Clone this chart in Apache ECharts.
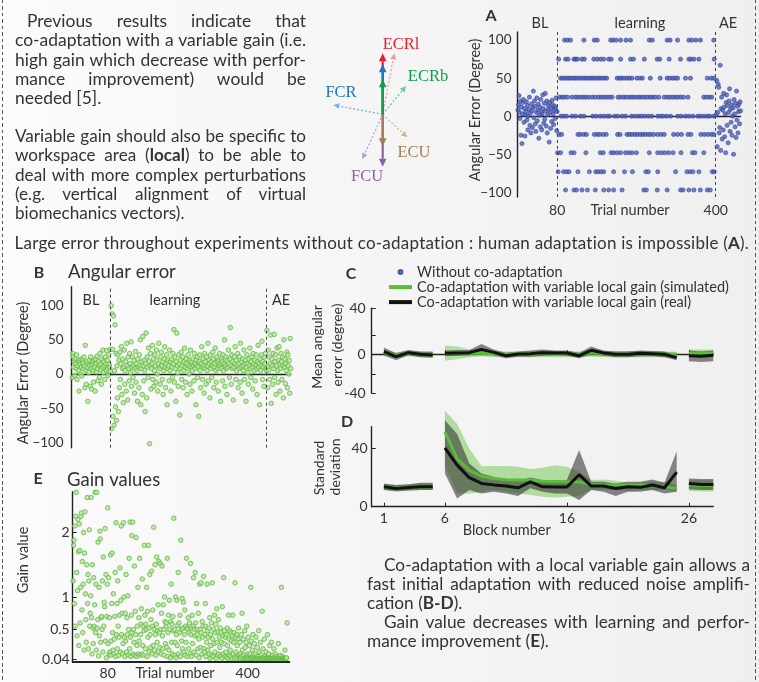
<!DOCTYPE html>
<html><head><meta charset="utf-8">
<script src="https://cdn.jsdelivr.net/npm/echarts@6.0.0/dist/echarts.min.js"></script>
<style>
html,body{margin:0;padding:0;}
body{width:759px;height:682px;position:relative;overflow:hidden;background:linear-gradient(90deg,#fbfbfb,#efefef);font-family:Lato,'Open Sans',sans-serif;color:#333;}
#chart{position:absolute;left:0;top:0;width:759px;height:682px;}
.ln{position:absolute;white-space:nowrap;line-height:20px;height:20px;}
.j{text-align:justify;text-align-last:justify;white-space:normal;}
.dash{position:absolute;top:0;width:1.6px;height:682px;background:repeating-linear-gradient(to bottom,#555 0 3.5px,transparent 3.5px 6.5px);}
b{font-weight:700;}
</style></head>
<body>
<div class="dash" style="left:1.5px"></div>
<div class="dash" style="left:754.5px"></div>
<div id="chart"></div>
<script>
// ---------------- DATA ----------------
// Panel A (without co-adaptation): baseline, learning levels, after-effect
const aBL = [8,15,27,5,-3,20,-25,12,-36,3, 18,22,-8,10,-26,2,6,19,-5,14, -18,0,9,25,-12,4,-22,16,7,-15,
  11,33,-2,20,13,-10,-20,5,24,-6, 8,16,-29,1,12,-14,22,6,-18,3, 28,10,-9,17,-4,30,7,-13,20,-22,
  2,14,9,-34,18,5,-16,11,-7,21, 15,3,-11,8,13,-3,10,24,-19,6];
const aLevelValues = [100,75,50,25,0,-24,-48,-73,-97];
const aL100 = [95,101,107,134,155,161,188,193,199,208,219,228,266,272,302,308,323,346,352,360,369,396];
const aL75 = [83,97,102,114,117,121,130,135,154,161,168,174,184,189,208,228,234,256,282,287,306,329,346,350,356,366,397];
const aL50 = [87,91,96,101,105,110,115,119,124,129,134,138,143,148,152,157,162,166,171,176,180,201,206,210,215,221,226,231,241,247,252,268,288,302,307,313,318,323,339,349,383,391,396];
const aL25 = [85,90,95,101,110,117,122,128,133,138,144,151,157,164,169,175,180,186,191,203,208,214,219,225,230,235,241,246,251,257,262,268,273,278,285,296,302,307,313,318,323,329,335,344,376,381,387,392];
const aL0 = [88,93,99,110,117,127,134,152,159,167,174,181,186,196,202,211,218,230,237,244,250,257,264,271,283,289,294,301,309,323,330,339,346,354,364,369,376,383,388,396];
const aLm24 = [84,89,122,127,134,139,155,161,166,173,179,202,207,221,226,231,237,242,248,253,258,264,269,275,283,290,296,315,323,331,344,350,370,377,384,391,396];
const aLm48 = [81,87,108,114,138,167,173,189,194,201,208,218,225,231,240,266,283,290,297,305,314,330,353,358,376];
const aLm73 = [82,93,99,104,122,145,158,163,169,174,194,216,232,259,264,283,319,342,348,354,366,393,397];
const aLm97 = [97,114,119,130,141,157,174,184,194,211,255,260,282,302,329,334,346,356,369,383,389];
const aAE = [2,47,-40,5,42,38,-22,-15,67,-45, 10,25,-30,8,-18,30,12,-27,3,-48, 18,28,-12,14,-35,5,20,36,-20,9,
  -8,15,-25,0,11,-50,22,3,-14,17, -28,33,-5,13,-22,6,16,-10,19,7];

// Panel B (co-adaptation angular error)
const bBL = [-5,30,25,10,18,-2,22,15,8,28, -8,12,20,5,-25,18,14,0,22,10, -3,20,16,8,25,12,-20,42,5,-15,
  18,10,-40,15,2,20,12,-18,25,8, -22,14,18,5,-12,20,10,-25,22,15, 3,26,8,-10,18,12,-5,30,14,6,
  -15,22,10,35,2,18,12,-8,25,15, 5,34,20,8,-2,28,14,10,36,4];
const bLearn = [100,-80,88,36,-62,85,-75,5,72,-48,30,-68,12,-35,28,-55,20,-20,32,-8,
  15,40,-30,8,22,-42,10,35,-15,5,18,-25,45,12,-38,25,8,-10,30,15,2,47,-18,10,25,-5,12,20,-28,8,33,-12,15,5,-40,22,10,-20,28,12,
  50,-45,8,18,-30,55,12,-10,20,5,-55,15,60,-35,25,10,-5,38,18,-102,12,30,-22,8,15,42,-8,22,-18,5,28,12,-12,35,20,0,-25,15,45,10,
  8,-15,25,32,12,-8,18,-30,5,22,40,10,-20,15,28,-45,8,20,12,-10,35,5,18,-25,22,10,-5,30,15,65,-12,25,8,-40,18,60,12,2,-18,28,
  15,-60,20,8,32,-8,12,25,-20,5,18,38,10,-12,22,15,-30,8,28,12,0,20,-15,35,10,18,-25,5,22,12,-10,30,15,8,-45,20,12,25,-5,10,
  -62,18,28,5,-20,15,40,10,-8,22,12,-28,30,8,18,-15,25,5,12,45,-10,20,15,-35,28,8,18,-5,12,32,22,-20,10,15,38,5,-12,25,18,8,
  -25,20,12,30,15,-40,8,22,18,-10,28,5,15,50,-18,12,25,8,-30,20,10,35,15,-5,22,68,12,-15,28,8,18,-38,10,25,15,40,-8,20,5,12,
  30,-20,15,8,25,-12,45,10,18,-28,22,12,5,35,-8,15,20,-40,10,28,15,2,-15,22,12,38,8,-5,18,25,10,-22,30,15,5,20,-10,12,28,8,
  -30,18,42,10,15,-45,22,5,12,28,48,-8,18,10,-18,25,15,30,8,5];
const bAE = [64,10,-20,35,5,25,-8,15,57,-43, 22,12,-15,30,8,58,-5,18,28,-30, 12,38,5,-12,20,40,15,-25,8,30,
  18,-8,25,12,-35,50,10,22,-14,15, 5,32,-20,28,12,0,20,-28,52,8];

// Panels C/D: blocks and phase segments
const blocks = [1,2,3,4,5,6,7,8,9,10,11,12,13,14,15,16,17,18,19,20,21,22,23,24,25,26,27,28];
const segStart = [1,6,26];
const segEnd = [5,25,28];
const cRealMean = [2.7,-2.4,1.7,0,-0.7,1,1.4,1.7,5.1,2,-1.4,0.3,0.7,1.7,1.4,1.4,-1.4,4.1,1.4,0,0,1,0.7,0,-3.4,-1.4,-2,-1];
const cRealHi = [7,1,4.5,3,2.5,4,4.5,4.5,10.5,5,1.5,3,4,5,4,4,1.5,8,4,3,3,4,3.5,3,-0.5,4,3,4];
const cRealLo = [-1,-6,-1,-3,-3.5,-2,-1.5,-1,1,-1,-4,-2.5,-2.5,-1.5,-1,-1.5,-4,0,-1.5,-3,-3,-2,-2,-3,-6,-7,-8,-7];
const cSimMean = [1.5,-1,1,0,0,0.5,1,1,1,0.5,0,0.5,0.5,0.5,0.5,0.5,0,1.5,0.5,0.5,0.5,0.5,0.5,0.5,0,1,1,1];
const cSimHi = [4,2,3.5,3,3,9,8,5,4,3,3,3,3,4,3.5,3.5,3,4,3.5,3.5,3.5,3.5,3.5,3,2.5,5,5,5];
const cSimLo = [-2,-4,-2,-3,-3,-6.5,-5,-3,-2,-3,-3,-3,-3,-3,-3,-3,-3,-2.5,-3,-3,-3,-3,-3,-3,-3,-3,-3,-3];
const dRealStd = [13.7,12.5,13.2,13.7,13.7,40.5,28.6,20,16,15,14.2,13,17,13.7,13.5,13.5,22,14.2,14.2,12.5,13.7,13.3,14.9,13,23.8,16,15.3,15.3];
const dRealHi = [16,15,15.5,16.5,16.5,59.4,50,29.7,22.9,20.6,18.7,17.6,20,18.3,17.1,18.3,38.9,17.1,17.1,16,17.1,17.1,18.7,16.5,38.2,19.4,19,19];
const dRealLo = [11.4,10.5,11,11.4,11.4,22.9,5.7,11.4,9,10.3,9,7.3,12.6,10.3,9,9,4.6,11.4,10.3,7.3,10.3,10.3,11.4,9,10.3,12,11.5,11.5];
const dSimStd = [13.5,13,13.3,13.5,13.5,51.4,33,25,21,19.4,18.5,18.3,18.3,17.5,17.3,17.1,17,15.3,14.9,14.9,14.9,14.9,14.4,13.7,12.6,15,14.5,14.5];
const dSimHi = [15.5,15,15.5,16,16,66,57,40,28,28,28,27.4,26,26.8,28.5,27.4,24,18.3,18.7,17.8,16.5,16.5,17.1,17.1,14.9,18.3,18,18];
const dSimLo = [11.5,11,11.5,11.5,11.5,28,9,9,10,11.4,10.3,9,8,6.9,6.4,6.9,7.3,11.4,11.4,11.4,10.8,11.4,11.4,11.4,10.3,11,10.5,10.5];

// Panel E: gain values per trial
const eGain = [1.25,1.8,1.88,0.9,2.1,0.55,2.25,2.62,1.38,0.4, 1.1,2.2,1.7,0.25,2.13,1.72,0.6,1.15,2.25,2.3,
  0.8,1.55,0.45,1.2,2.0,0.18,1.68,2.32,1.05,0.65, 0.3,1.5,2.54,0.9,1.35,0.2,1.25,2.04,0.55,0.75,
  1.02,2.54,0.68,0.12,1.5,0.52,0.28,1.3,0.55,0.88, 2.62,0.45,1.2,0.18,2.62,0.52,0.65,1.85,0.09,1.15,
  0.4,2.02,1.9,0.3,0.68,0.7,0.5,1.25,0.15,1.62, 0.55,0.92,0.85,2.06,0.32,1.35,0.06,0.7,1.2,2.38,
  0.28,1.3,0.12,0.68,0.15,1.65,0.1,0.32,0.9,1.68, 0.45,0.18,1.05,0.12,0.35,0.7,1.38,0.08,2.15,0.42,
  0.9,0.2,1.25,0.55,0.1,0.38,0.72,1.45,0.15,0.95, 2.1,0.42,0.75,0.12,0.28,2.15,1.0,0.38,0.08,0.75,
  0.32,1.35,0.15,0.68,0.42,1.02,0.1,0.5,1.6,0.2, 2.16,0.38,0.08,0.72,1.95,0.45,2.16,0.12,0.5,0.3,
  1.48,0.1,0.78,0.42,1.92,0.08,0.25,0.55,1.15,0.12, 0.68,0.32,1.6,0.1,0.42,0.58,0.82,0.12,1.28,0.25,
  0.55,0.1,0.48,1.8,0.72,0.2,0.58,0.5,1.15,0.08, 0.78,0.38,1.8,0.52,0.15,1.35,0.42,0.22,0.65,1.4,
  0.12,0.55,0.8,0.25,2.08,0.5,0.18,1.5,0.42,0.1, 0.58,1.62,0.3,0.48,0.88,0.15,1.55,0.45,0.22,1.52,
  0.5,0.12,0.75,1.48,0.4,0.2,0.88,0.5,0.1,1.0, 0.62,0.28,0.55,0.6,0.22,1.6,0.08,0.45,0.72,0.18,
  0.95,0.5,0.06,0.62,1.2,0.3,0.58,0.12,0.7,0.48, 2.22,0.1,0.5,0.3,1.0,0.06,0.42,0.95,0.25,0.56,
  1.38,0.12,0.6,0.45,0.72,0.08,1.88,0.5,0.32,0.98, 0.2,0.52,0.92,0.15,0.42,0.8,0.1,0.55,0.3,1.6,
  0.52,0.08,0.5,0.68,0.2,0.45,0.6,0.12,1.52,0.42, 0.08,0.52,0.72,0.28,0.55,1.3,0.15,0.5,0.4,1.38,
  0.6,0.1,0.9,0.42,0.5,0.2,0.75,0.35,0.06,1.2, 0.5,0.22,1.22,0.45,0.12,0.62,0.38,0.55,1.32,0.2,
  0.15,0.42,0.9,0.55,0.08,0.3,1.2,0.48,0.18,0.38, 0.52,0.12,0.68,0.05,0.42,0.25,0.6,0.1,1.22,0.35,
  0.08,0.5,0.28,0.72,0.15,0.45,0.58,0.05,0.82,0.3, 0.1,0.46,0.65,0.12,0.38,0.22,0.52,0.08,0.45,0.3,
  0.05,0.85,0.4,0.12,1.3,0.28,0.48,0.08,0.38,0.15, 0.42,0.07,0.52,0.25,0.05,0.72,0.35,0.1,0.48,0.18,
  0.08,0.45,0.32,0.05,0.4,0.72,0.12,0.3,0.45,0.06, 1.22,0.38,0.15,0.05,0.42,0.25,0.08,0.35,0.52,0.1,
  0.05,0.3,0.12,0.05,0.42,0.08,0.75,0.18,0.05,0.35, 0.1,0.05,0.48,0.22,0.06,0.3,0.05,0.55,0.12,0.05,
  0.38,0.08,0.05,0.25,0.12,0.05,1.15,0.32,0.06,0.05, 0.18,0.42,0.05,0.08,0.28,0.05,0.12,0.05,0.38,0.06,
  0.05,0.22,0.08,0.05,0.48,0.15,0.05,0.06,0.3,0.05, 0.1,0.05,0.78,0.06,0.2,0.05,0.05,0.35,0.08,0.05,
  0.05,0.15,0.05,0.06,0.42,0.05,0.05,0.12,0.05,0.25, 0.05,0.06,0.05,0.3,0.05,0.05,0.1,0.05,0.06,0.2,
  0.05,0.05,0.12,0.05,0.06,0.05,0.08,0.05,0.05,0.28, 0.05,0.06,0.05,0.05,0.1,0.05,1.15,0.05,0.08,0.05,
  0.05,0.05,0.06,0.05,0.18,0.05,0.05,0.05,0.06,0.6];

// Tick labels
const trialTicks = [80,400];
const angleTicks = [-100,-50,0,50,100];
const blockTicks = [1,6,16,26];
const gainTicks = [0.04,0.5,1,2];

// Vector diagram (relative to its origin)
const vecNames = ['ECRl','ECRb','FCR','ECU','FCU'];
const vecDark = ['#e41e2b','#10a04b','#1c74bb','#a67b51','#8a60a8'];
const vecLight = ['#f29aa0','#6cc99a','#7db2de','#d3b393','#b9a0cf'];
const vecDotted = [[11.6,-61],[23.3,-28.3],[-49.4,-9.3],[24.6,23],[-20.4,45]];
const vecSolidLen = [-61,-35,-50,32,52.4];

// ---------------- TEXT (HTML) ----------------
// [left, right, centerY, baseFontSize, html, mode(0 left / 1 justify / 2 letter-spaced), group]
const textLines = [
 [27,306,21,16,'Previous results indicate that',1,0],
 [15,306,40.3,16,'co-adaptation with a variable gain (i.e.',1,0],
 [15,306,59.6,16,'high gain which decrease with perfor-',1,0],
 [15,306,78.9,16,'mance improvement) would be',1,0],
 [15,306,98.2,16,'needed [5].',0,0],
 [15,306,136,16,'Variable gain should also be specific to',1,1],
 [15,306,155.3,16,'workspace area (<b>local</b>) to be able to',1,1],
 [15,306,174.6,16,'deal with more complex perturbations',1,1],
 [15,306,193.9,16,'(e.g. vertical alignment of virtual',1,1],
 [15,306,213.2,16,'biomechanics vectors).',0,1],
 [14.5,750,243,17,'Large error throughout experiments without co-adaptation : human adaptation is impossible (<b>A</b>).',2,2],
 [384,750,565,16,'Co-adaptation with a local variable gain allows a',1,3],
 [367,750,584,16,'fast initial adaptation with reduced noise amplifi-',1,3],
 [367,750,603,16,'cation (<b>B-D</b>).',0,3],
 [384,750,622,16,'Gain value decreases with learning and perfor-',1,3],
 [367,750,641,16,'mance improvement (<b>E</b>).',0,3]
];
const lineDivs = textLines.map(function(t){
  const d = document.createElement('div');
  d.className = 'ln';
  d.style.left = t[0] + 'px';
  d.style.top = (t[2] - 10) + 'px';
  d.style.fontSize = t[3] + 'px';
  d.innerHTML = t[4];
  document.body.appendChild(d);
  return d;
});
// fit font size per paragraph so that its fullest justified line has natural spacing
const groupRatio = {};
textLines.forEach(function(t,i){
  if (t[5] !== 1) return;
  const r = (t[1] - t[0]) / lineDivs[i].scrollWidth;
  groupRatio[t[6]] = Math.min(groupRatio[t[6]] === undefined ? 9 : groupRatio[t[6]], r);
});
textLines.forEach(function(t,i){
  const d = lineDivs[i];
  const target = t[1] - t[0];
  if (groupRatio[t[6]] !== undefined) {
    const r = Math.max(0.85, Math.min(1.12, groupRatio[t[6]] * 0.99));
    d.style.fontSize = (t[3] * r) + 'px';
  }
  const natural = d.scrollWidth;
  if (t[5] === 1) {
    if (natural > target) {
      d.style.transformOrigin = '0 50%';
      d.style.transform = 'scaleX(' + (target / natural) + ')';
    } else {
      d.className = 'ln j';
      d.style.width = target + 'px';
    }
  } else if (t[5] === 2) {
    if (natural > target) {
      d.style.transformOrigin = '0 50%';
      d.style.transform = 'scaleX(' + (target / natural) + ')';
    } else {
      d.style.letterSpacing = ((target - natural) / d.textContent.length) + 'px';
    }
  }
});

// ---------------- CHART ----------------
const FONT = 'Lato';
const A_NAME = 'Without co-adaptation';
const SIM = 'Co-adaptation with variable local gain (simulated)';
const REAL = 'Co-adaptation with variable local gain (real)';

const aData = [];
aBL.forEach(function(v,i){ aData.push([i+1, v]); });
[aL100,aL75,aL50,aL25,aL0,aLm24,aLm48,aLm73,aLm97].forEach(function(arr,k){
  arr.forEach(function(t){ aData.push([t, aLevelValues[k]]); });
});
aAE.forEach(function(v,i){ aData.push([401+i, v]); });

const bData = [];
bBL.forEach(function(v,i){ bData.push([i+1, v]); });
bLearn.forEach(function(v,i){ bData.push([81+i, v]); });
bAE.forEach(function(v,i){ bData.push([401+i, v]); });

const eData = eGain.map(function(v,i){ return [i+1, v]; });

function seg(vals){
  const out = [];
  blocks.forEach(function(b,i){
    out.push([b, vals[i]]);
    if (segEnd.indexOf(b) >= 0 && b !== blocks[blocks.length-1]) out.push([b + 0.5, '-']);
  });
  return out;
}
function band(name, axis, lo, hi, color){
  return {
    type:'custom', name:name, xAxisIndex:axis, yAxisIndex:axis, silent:true,
    data: segStart.map(function(s,k){ return [s, lo[blocks.indexOf(s)], segEnd[k]]; }),
    renderItem: function(params, api){
      const i0 = blocks.indexOf(segStart[params.dataIndex]);
      const i1 = blocks.indexOf(segEnd[params.dataIndex]);
      const pts = [];
      for (let i = i0; i <= i1; i++) pts.push(api.coord([blocks[i], hi[i]]));
      for (let i = i1; i >= i0; i--) pts.push(api.coord([blocks[i], lo[i]]));
      return {type:'polygon', shape:{points:pts}, style:{fill:color}};
    }
  };
}
function meanLine(name, axis, vals, color){
  return {type:'line', name:name, xAxisIndex:axis, yAxisIndex:axis, data:seg(vals), symbol:'none', showSymbol:false,
    lineStyle:{color:color, width:3}, itemStyle:{color:color}, silent:true};
}
const GREEN_BAND = 'rgba(100,190,60,0.45)';
const GREY_BAND = 'rgba(40,40,40,0.55)';
const axisLineStyle = {lineStyle:{color:'#222', width:1.4}};
const lab = {color:'#333', fontFamily:FONT, fontSize:13.5};
function minusFmt(v){ return v < 0 ? '\u2212' + Math.abs(v) : String(v); }

const dashedMarks = {symbol:'none', silent:true, label:{show:false},
  lineStyle:{type:[3,3], color:'#444', width:1}, data:[{xAxis:80},{xAxis:400}]};

const grids = [
  {left:517.5, top:32, width:223, height:165},
  {left:71.7, top:286.7, width:219, height:161},
  {left:371.7, top:308.3, width:341.6, height:85},
  {left:371.7, top:426.7, width:341.6, height:80},
  {left:72.7, top:491.7, width:216.6, height:170}
];

const xAxes = [
  {gridIndex:0, type:'value', min:0, max:450, axisLine:axisLineStyle, axisTick:{show:false}, splitLine:{show:false},
   axisLabel:Object.assign({customValues:trialTicks, margin:6}, lab, {fontSize:14})},
  {gridIndex:1, type:'value', min:0, max:450, axisLine:axisLineStyle, axisTick:{show:false}, splitLine:{show:false}, axisLabel:{show:false}},
  {gridIndex:2, type:'value', min:0, max:28, axisLine:axisLineStyle, splitLine:{show:false},
   axisTick:{customValues:blockTicks, inside:true, length:4, lineStyle:{color:'#222'}}, axisLabel:{show:false}},
  {gridIndex:3, type:'value', min:0, max:28, axisLine:axisLineStyle, splitLine:{show:false},
   axisTick:{customValues:blockTicks, inside:true, length:4, lineStyle:{color:'#222'}},
   axisLabel:Object.assign({customValues:blockTicks, margin:5}, lab, {fontSize:14})},
  {gridIndex:4, type:'value', min:0, max:495, axisLine:{lineStyle:{color:'#222', width:2}}, axisTick:{show:false}, splitLine:{show:false},
   axisLabel:Object.assign({customValues:trialTicks, margin:5}, lab, {fontSize:14})}
];
const yAxes = [
  {gridIndex:0, type:'value', min:-106.2, max:110.7, axisLine:Object.assign({show:true}, axisLineStyle), axisTick:{show:false}, splitLine:{show:false},
   axisLabel:Object.assign({customValues:angleTicks, margin:6, formatter:minusFmt}, lab)},
  {gridIndex:1, type:'value', min:-107.9, max:127.8, axisLine:Object.assign({show:true}, axisLineStyle), axisTick:{show:false}, splitLine:{show:false},
   axisLabel:Object.assign({customValues:angleTicks, margin:8, formatter:minusFmt}, lab)},
  {gridIndex:2, type:'value', min:-40, max:47.2, axisLine:Object.assign({show:true}, axisLineStyle), splitLine:{show:false},
   axisTick:{customValues:[-40,-20,0,20,47.2], inside:true, length:4, lineStyle:{color:'#222'}},
   axisLabel:Object.assign({customValues:[-40,0,47.2], margin:6, formatter:function(v){ return v > 40 ? '40' : String(v); }}, lab, {fontSize:14})},
  {gridIndex:3, type:'value', min:0, max:55, axisLine:Object.assign({show:true}, axisLineStyle), splitLine:{show:false},
   axisTick:{customValues:[0,40], inside:true, length:4, lineStyle:{color:'#222'}},
   axisLabel:Object.assign({customValues:[0,40], margin:4}, lab, {fontSize:14})},
  {gridIndex:4, type:'value', min:0, max:2.63, axisLine:{show:true, lineStyle:{color:'#222', width:1.4}}, splitLine:{show:false},
   axisTick:{customValues:gainTicks, inside:true, length:4, lineStyle:{color:'#222'}},
   axisLabel:Object.assign({customValues:gainTicks, margin:3}, lab, {fontSize:14})}
];

const greenDot = {color:'#b8e4a0', borderColor:'#5db83c', borderWidth:1};

const series = [
  {type:'scatter', name:A_NAME, xAxisIndex:0, yAxisIndex:0, data:aData, symbolSize:4.2,
   itemStyle:{color:'#5061b8', borderColor:'#2e3e98', borderWidth:0.7}, markLine:dashedMarks, silent:true},
  {type:'scatter', name:'Co-adaptation angular error', xAxisIndex:1, yAxisIndex:1, data:bData, symbolSize:4.5,
   itemStyle:greenDot, markLine:dashedMarks, silent:true},
  {type:'scatter', name:'Gain value', xAxisIndex:4, yAxisIndex:4, data:eData, symbolSize:4.5, itemStyle:greenDot, silent:true},
  band('Simulated band C', 2, cSimLo, cSimHi, GREEN_BAND),
  band('Real band C', 2, cRealLo, cRealHi, GREY_BAND),
  meanLine(SIM, 2, cSimMean, '#5cbb38'), meanLine(REAL, 2, cRealMean, '#111'),
  band('Simulated band D', 3, dSimLo, dSimHi, GREEN_BAND),
  band('Real band D', 3, dRealLo, dRealHi, GREY_BAND),
  meanLine(SIM, 3, dSimStd, '#5cbb38'), meanLine(REAL, 3, dRealStd, '#111')
];

// graphic texts
function txt(x, y, s, size, opts){
  opts = opts || {};
  return {type:'text', x:x, y:y, rotation:opts.rot || 0, silent:true,
    style:{text:s, fill:opts.color || '#333', align:opts.align || 'center', verticalAlign:'middle',
      font:(opts.bold ? 'bold ' : '') + size + 'px ' + (opts.family || FONT)}};
}
const R = Math.PI / 2;
const graphics = [
  txt(491,15.5,'A',16,{bold:1}), txt(39,272.5,'B',16,{bold:1}), txt(351,274,'C',16,{bold:1}),
  txt(347,422,'D',16,{bold:1}), txt(38,479,'E',16,{bold:1}),
  txt(68,272,'Angular error',18.5,{align:'left'}), txt(67,480,'Gain values',18.5,{align:'left'}),
  txt(540,23,'BL',14.5), txt(640,23,'learning',14.5), txt(728,23,'AE',14.5),
  txt(91,300,'BL',14.5), txt(175,300,'learning',14.5), txt(281,300,'AE',14.5),
  txt(475,110,'Angular Error (Degree)',14.5,{rot:R}),
  txt(23.5,373,'Angular Error (Degree)',14.5,{rot:R}),
  txt(317,347,'Mean angular',14,{rot:R}), txt(337,345,'error (degree)',14,{rot:R}),
  txt(319,468,'Standard',14,{rot:R}), txt(335.5,467,'deviation',14,{rot:R}),
  txt(23,560,'Gain value',14.5,{rot:R}),
  txt(630,210,'Trial number',14.5), txt(175,673,'Trial number',14.5), txt(506.7,530,'Block number',14.5)
];
// vector diagram
const O = [382.7, 114.3];
function arrow(x1,y1,x2,y2,color,dashed){
  const dx = x2-x1, dy = y2-y1, L = Math.hypot(dx,dy), ux = dx/L, uy = dy/L;
  const hl = dashed ? 6 : 8, hw = dashed ? 3 : 3.8;
  const bx = x2-ux*hl, by = y2-uy*hl;
  return [
    {type:'line', silent:true, shape:{x1:x1,y1:y1,x2:bx,y2:by}, style:{stroke:color, lineWidth:dashed ? 1.3 : 2.2, lineDash:dashed ? [2,2] : null}},
    {type:'polygon', silent:true, shape:{points:[[x2,y2],[bx-uy*hw,by+ux*hw],[bx+uy*hw,by-ux*hw]]}, style:{fill:color}}
  ];
}
vecDotted.forEach(function(v,i){
  arrow(O[0],O[1],O[0]+v[0],O[1]+v[1],vecLight[i],true).forEach(function(g){ graphics.push(g); });
});
[0,2,1,4,3].forEach(function(i){
  arrow(O[0],O[1],O[0],O[1]+vecSolidLen[i],vecDark[i],false).forEach(function(g){ graphics.push(g); });
});
const vecLabelPos = [[401,45],[428,77],[341,93],[414,153],[367,177]];
vecNames.forEach(function(n,i){
  graphics.push(txt(vecLabelPos[i][0], vecLabelPos[i][1], n, 16.5, {color:vecDark[i], family:'Liberation Serif'}));
});

const chart = echarts.init(document.getElementById('chart'), null, {renderer:'canvas'});
chart.setOption({
  animation:false,
  textStyle:{fontFamily:FONT},
  grid:grids, xAxis:xAxes, yAxis:yAxes, series:series,
  legend:{left:389, top:264.6, orient:'vertical', itemWidth:23, itemHeight:4, itemGap:0, padding:0,
    selectedMode:false,
    textStyle:{fontSize:14.5, color:'#333', fontFamily:FONT, lineHeight:14.8},
    data:[{name:A_NAME, icon:'circle', itemStyle:{color:'#5061b8'}},
          {name:SIM, icon:'rect', itemStyle:{color:'#5cbb38'}},
          {name:REAL, icon:'rect', itemStyle:{color:'#111'}}]},
  graphic:graphics
});
</script>
</body></html>
